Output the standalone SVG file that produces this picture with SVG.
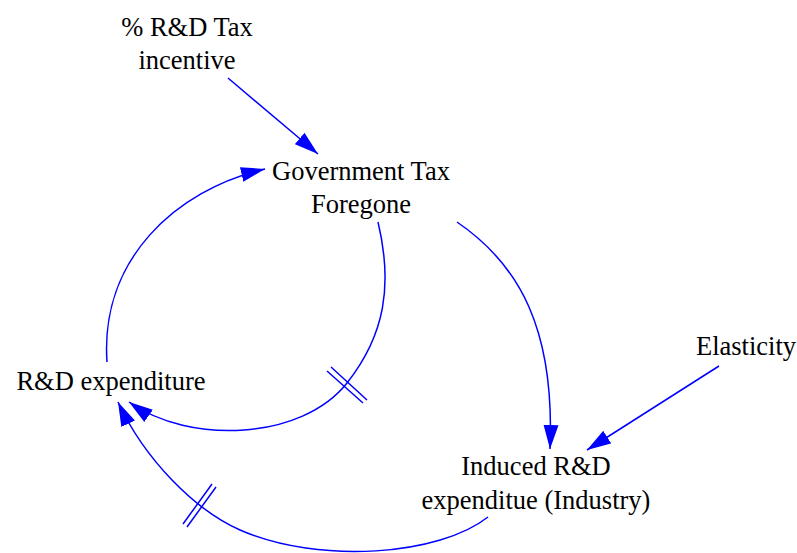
<svg xmlns="http://www.w3.org/2000/svg" width="797" height="553" viewBox="0 0 797 553">
<style>
.t{font-size:26.5px;fill:#000;text-anchor:middle}
.c{fill:none;stroke:#0000FF;stroke-width:1.5}
.d{fill:none;stroke:#0000FF;stroke-width:1.5}
</style>
<defs>
<marker id="ah" markerUnits="userSpaceOnUse" markerWidth="26" markerHeight="16" refX="24" refY="8" orient="auto">
<path d="M0,0.5 L24,8 L0,15.5 z" fill="#0000FF"/>
</marker>
</defs>
<rect width="797" height="553" fill="#fff"/>
<g id="connectors">
<path class="c" d="M228,78 L318,154" marker-end="url(#ah)"/>
<path class="c" d="M719,366 L587,450" marker-end="url(#ah)"/>
<path class="c" d="M107,362 C100,260 175,190 265,169" marker-end="url(#ah)"/>
<path class="c" d="M457,222 C520,265 555,330 550,449" marker-end="url(#ah)"/>
<path class="c" d="M378,222 C393,285 385,335 347,383 C302,440 190,445 129,402" marker-end="url(#ah)"/>
<path class="c" d="M488,517 C440,555 320,565 240,530 C195,510 145,460 118,402" marker-end="url(#ah)"/>
<path class="d" d="M331,367 L367,400 M327,371 L363,403"/>
<path class="d" d="M212,484 L183,524 M216,487 L187,527"/>
</g>
<g font-family="Times New Roman, Times, Liberation Serif, DejaVu Serif, serif">
<g id="incentive"><text class="t" x="187" y="36">% R&amp;D Tax</text><text class="t" x="187" y="69">incentive</text></g>
<g id="gov"><text class="t" x="361" y="180">Government Tax</text><text class="t" x="361" y="213">Foregone</text></g>
<g id="elasticity"><text class="t" x="746" y="355">Elasticity</text></g>
<g id="rd"><text class="t" x="111" y="390">R&amp;D expenditure</text></g>
<g id="induced"><text class="t" x="536" y="475">Induced R&amp;D</text><text class="t" x="536" y="509">expenditue (Industry)</text></g>
</g>
</svg>
